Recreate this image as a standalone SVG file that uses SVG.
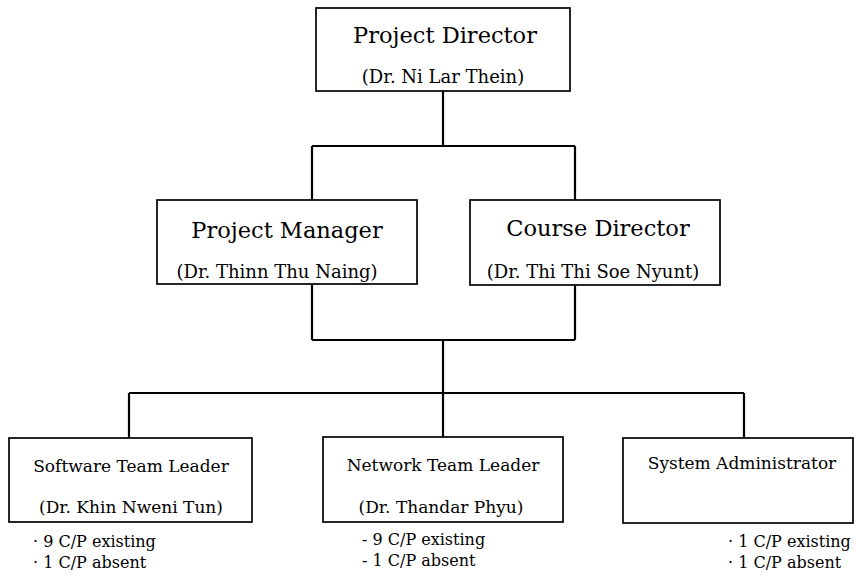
<svg xmlns="http://www.w3.org/2000/svg" width="856" height="579" viewBox="0 0 856 579">
<style>
.box{fill:#fff;stroke:#000;stroke-width:1.7}
.conn{fill:none;stroke:#000;stroke-width:2.2}
text{font-family:"DejaVu Serif","Liberation Serif",serif;fill:#000}
.t1{font-size:22.5px;text-anchor:middle}
.t2{font-size:18px;text-anchor:middle}
.t3{font-size:17px;text-anchor:middle}
.b{font-size:16px}
</style>
<rect width="856" height="579" fill="#fff"/>
<g id="connectors">
<path class="conn" d="M443 91 V146 M312 146 H575 M312 146 V200 M575 146 V200"/>
<path class="conn" d="M312 284 V340 M575 285 V340 M312 340 H575 M443 340 V393 M129 393 H744 M129 393 V438 M443 393 V437 M744 393 V438"/>
</g>
<g id="project-director">
<rect class="box" x="316" y="8" width="254" height="83"/>
<text class="t1" x="445" y="43">Project Director</text>
<text class="t2" x="443" y="83">(Dr. Ni Lar Thein)</text>
</g>
<g id="project-manager">
<rect class="box" x="157" y="200" width="260" height="84"/>
<text class="t1" x="287" y="238">Project Manager</text>
<text class="t2" x="277" y="278">(Dr. Thinn Thu Naing)</text>
</g>
<g id="course-director">
<rect class="box" x="470" y="200" width="250" height="85"/>
<text class="t1" x="598" y="236">Course Director</text>
<text class="t2" x="593" y="278">(Dr. Thi Thi Soe Nyunt)</text>
</g>
<g id="software-team-leader">
<rect class="box" x="9" y="438" width="243" height="84"/>
<text class="t3" x="131" y="472">Software Team Leader</text>
<text class="t3" x="131" y="513">(Dr. Khin Nweni Tun)</text>
<text class="b" x="33" y="547">· 9 C/P existing</text>
<text class="b" x="33" y="568">· 1 C/P absent</text>
</g>
<g id="network-team-leader">
<rect class="box" x="323" y="437" width="240" height="85"/>
<text class="t3" x="443" y="471">Network Team Leader</text>
<text class="t3" x="441" y="513">(Dr. Thandar Phyu)</text>
<text class="b" x="362" y="545">- 9 C/P existing</text>
<text class="b" x="362" y="566">- 1 C/P absent</text>
</g>
<g id="system-administrator">
<rect class="box" x="623" y="438" width="230" height="85"/>
<text class="t3" x="742" y="469">System Administrator</text>
<text class="b" x="728" y="547">· 1 C/P existing</text>
<text class="b" x="728" y="568">· 1 C/P absent</text>
</g>
</svg>
